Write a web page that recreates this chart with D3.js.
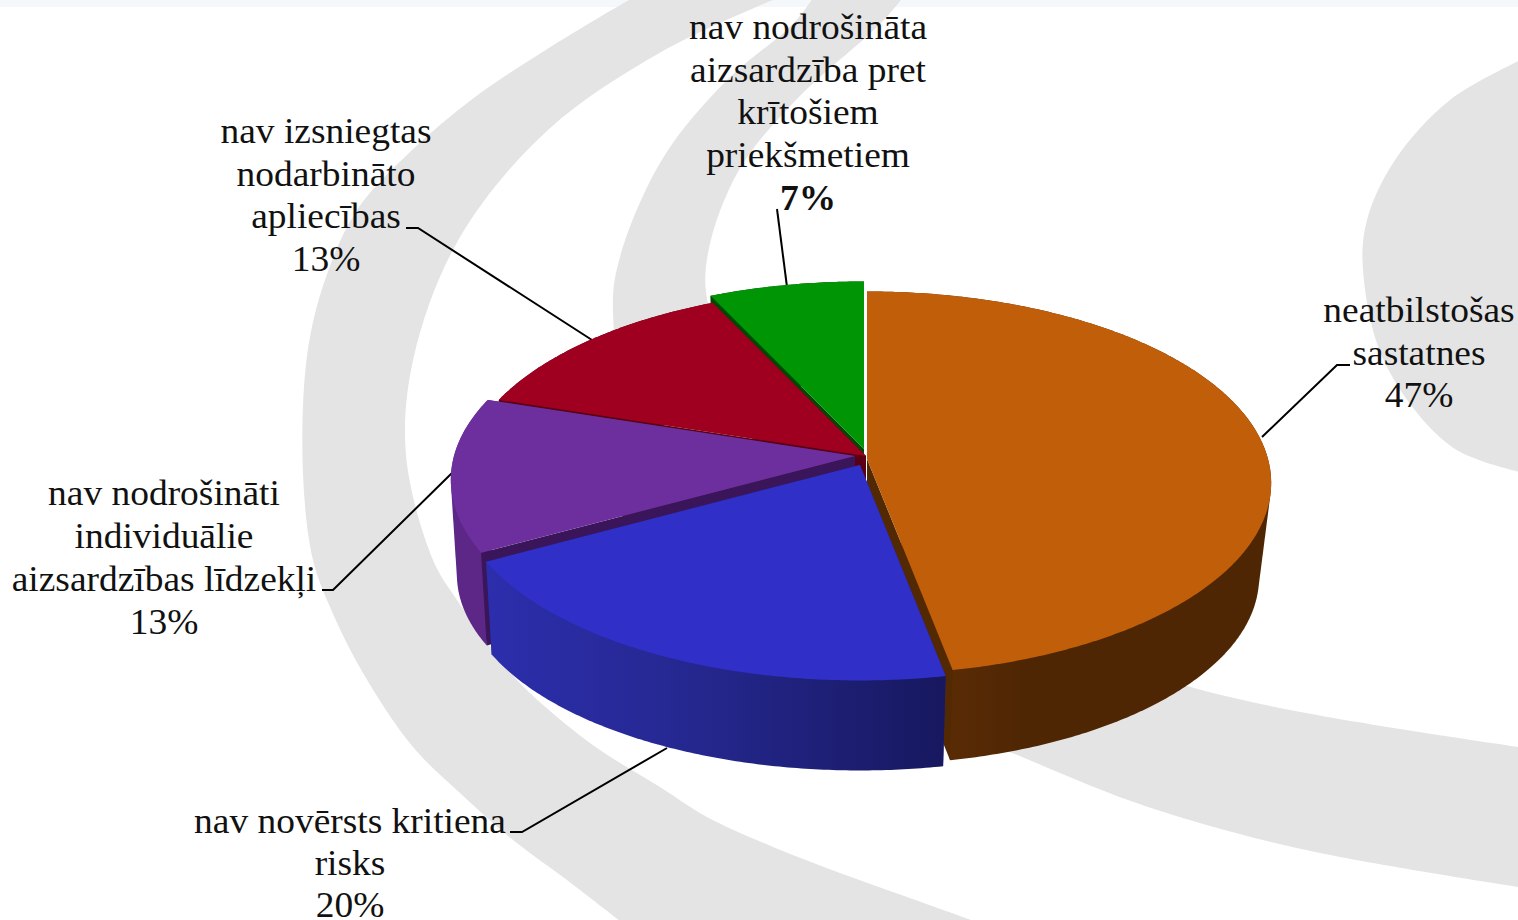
<!DOCTYPE html>
<html>
<head>
<meta charset="utf-8">
<script src="https://cdn.jsdelivr.net/npm/d3@7/dist/d3.min.js"></script>
<style>
html,body{margin:0;padding:0;background:#fff;overflow:hidden}
svg{display:block}
text{font-family:"Liberation Serif","Times New Roman",serif;fill:#111}
</style>
</head>
<body>
<svg id="c" width="1518" height="920"></svg>
<script>
// ---- data ----
const categories = [
  "neatbilstošas sastatnes",
  "nav novērsts kritiena risks",
  "nav nodrošināti individuālie aizsardzības līdzekļi",
  "nav izsniegtas nodarbināto apliecības",
  "nav nodrošināta aizsardzība pret krītošiem priekšmetiem"
];
const values = [47, 20, 13, 13, 7];
const labelLines = [
  ["neatbilstošas", "sastatnes"],
  ["nav novērsts kritiena", "risks"],
  ["nav nodrošināti", "individuālie", "aizsardzības līdzekļi"],
  ["nav izsniegtas", "nodarbināto", "apliecības"],
  ["nav nodrošināta", "aizsardzība pret", "krītošiem", "priekšmetiem"]
];
const boldPercent = [false, false, false, false, true];

// ---- styling / layout ----
const topColors    = ["#C05E0A", "#3030C8", "#6E2F9E", "#A00020", "#009505"];
const radialColors = ["#532904", "#20207F", "#3B1559", "#5A0012", "#004A00"];
const wallColors   = ["url(#gOrange)", "url(#gBlue)", "#5C2786", "#5A0012", "#004A00"];
const offsets      = [[0,0], [-7,6], [-12,-3], [-1,-3], [-3,-10]];
const drawOrder    = [4, 3, 2, 0, 1];
const labelPos = [
  {x:1419, y:322, dy:42.5},
  {x:350,  y:833, dy:42},
  {x:164,  y:505, dy:43},
  {x:326,  y:143, dy:42.5},
  {x:808,  y:39,  dy:42.7}
];
const leaders = [
  [[1262,437],[1337,365],[1350,365]],
  [[667,748],[522,832],[510,832]],
  [[453,472],[333,590],[322,590]],
  [[592,340],[418,228],[406,228]],
  [[787,287],[777,209]]
];
const rings = [
  { // outer swoosh
    a:[[634,-3],[552,46],[475,97],[410,152],[357,210],[325,280],[307,356],[303,474],[313,560],[330,607],[363,673],[413,747],[460,793],[513,840],[567,880],[625,925]],
    b:[[985,925],[907,897],[840,873],[773,847],[707,817],[660,787],[600,750],[557,717],[517,680],[487,642],[457,600],[433,560],[406,455],[414,356],[460,237],[548,130],[663,51],[780,-3]]
  },
  { // inner swoosh
    a:[[815,-5],[793,24],[728,79],[663,158],[620,257],[613,312],[640,450],[800,660],[1022,757],[1148,807],[1306,850],[1525,888]],
    b:[[1525,748],[1306,713],[1184,685],[1060,640],[750,400],[708,304],[708,253],[739,170],[797,99],[880,24],[905,-5]]
  },
  { // right blob
    a:[[1525,58],[1450,100],[1395,160],[1367,220],[1363,270],[1385,363],[1452,447],[1525,473]],
    b:[]
  }
];

const svg = d3.select("#c");
const defs = svg.append("defs");
function grad(id, stops){
  const g = defs.append("linearGradient").attr("id", id)
    .attr("gradientUnits","userSpaceOnUse").attr("x1",450).attr("x2",1270).attr("y1",0).attr("y2",0);
  stops.forEach(s => g.append("stop").attr("offset",s[0]).attr("stop-color",s[1]));
}
grad("gBlue",  [[0.03,"#2C2EAE"],[0.3,"#25278F"],[0.6,"#17185F"],[1,"#17185F"]]);
grad("gOrange",[[0.6,"#5A2C05"],[0.7,"#4F2604"],[1,"#4F2604"]]);

// background
svg.append("rect").attr("width",1518).attr("height",920).attr("fill","#fff");
svg.append("rect").attr("width",1518).attr("height",7).attr("fill","#F5F8FA");
const ringLine = d3.line().curve(d3.curveCatmullRom.alpha(0.5));
svg.append("g").selectAll("path").data(rings).join("path")
  .attr("fill","#E4E4E4")
  .attr("d", r => ringLine(r.a) + (r.b.length ? "L" + ringLine(r.b).slice(1) : "") + "Z");

// leader lines sit behind the pie
svg.append("g").selectAll("path").data(leaders).join("path")
  .attr("fill","none").attr("stroke","#000").attr("stroke-width",2)
  .attr("d", d3.line());

// pie geometry
const pie = d3.pie().sort(null).startAngle(0).endAngle(2*Math.PI)(values);
const cx = 867, cy = 459, rx = 401, ry = 188.5, persp = 0.125, depth = 95, shrinkY = 0.977;
const sx = d3.scaleLinear().domain([-1,1]).range([cx-rx, cx+rx]);
const sy = d3.scaleLinear().domain([-1,1]).range([cy-ry, cy+ry]);
function project(theta, r, bottom, off){
  const u = r*Math.sin(theta), v = -r*Math.cos(theta);
  const s = 1/(1 - persp*v);
  let x = sx(u*s), y = sy(v*s);
  if (bottom){
    x = cx + (x > cx ? 0.97 : 0.985)*(x-cx);
    y = cy + shrinkY*(y-cy) + depth;
  }
  return [x+off[0], y+off[1]];
}
const poly = d3.line().curve(d3.curveLinear);
function arcPts(a0, a1, bottom, off){
  const n = Math.max(8, Math.ceil(Math.abs(a1-a0)/0.01));
  return d3.range(n+1).map(i => project(a0+(a1-a0)*i/n, 1, bottom, off));
}
const gPie = svg.append("g");
drawOrder.forEach(i => {
  const d = pie[i], off = offsets[i];
  const g = gPie.append("g");
  const radial = a => g.append("path").attr("fill", radialColors[i])
      .attr("d", poly([project(a,0,false,off),project(a,1,false,off),project(a,1,true,off),project(a,0,true,off)])+"Z");
  // faces turned away from the viewer go first
  const startVisible = Math.sin(d.startAngle) < -1e-6;
  const endVisible = Math.sin(d.endAngle) > 1e-6;
  if (!startVisible) radial(d.startAngle);
  if (!endVisible) radial(d.endAngle);
  // outer wall: hull of the rim and its lower copy
  const hull = d3.polygonHull(arcPts(d.startAngle,d.endAngle,false,off).concat(arcPts(d.startAngle,d.endAngle,true,off)));
  g.append("path").attr("fill", wallColors[i]).attr("d", poly(hull)+"Z");
  if (startVisible) radial(d.startAngle);
  if (endVisible) radial(d.endAngle);
  // top face
  g.append("path").attr("fill", topColors[i])
    .attr("d", poly([project(0,0,false,off)].concat(arcPts(d.startAngle,d.endAngle,false,off)))+"Z");
});

// labels
const gLab = svg.append("g").attr("font-size",35.5).attr("text-anchor","middle");
categories.forEach((c,i) => {
  const p = labelPos[i];
  const lines = labelLines[i].concat([values[i]+"%"]);
  lines.forEach((t,k) => {
    gLab.append("text").attr("transform",`translate(${p.x},${p.y+k*p.dy}) scale(1.055,1)`).text(t)
      .attr("font-weight", (k===lines.length-1 && boldPercent[i]) ? "bold" : "normal");
  });
});
</script>
</body>
</html>
